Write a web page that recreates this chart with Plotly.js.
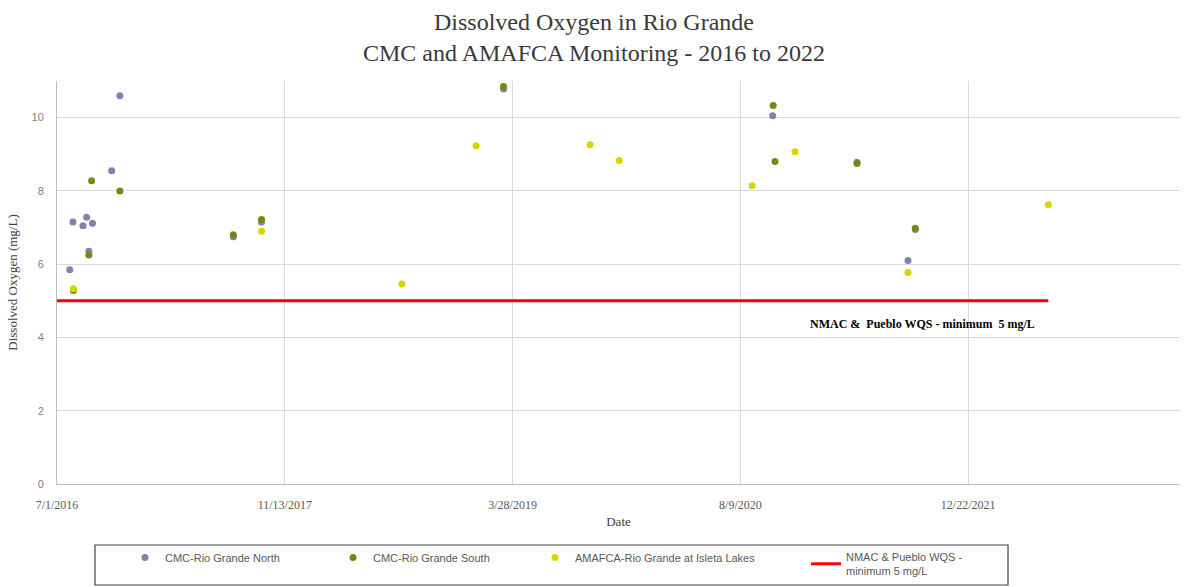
<!DOCTYPE html>
<html>
<head>
<meta charset="utf-8">
<script src="https://cdn.plot.ly/plotly-3.0.1.min.js"></script>
<style>html,body{margin:0;padding:0;background:#fff;}#chart{width:1188px;height:587px;}</style>
</head>
<body>
<div id="chart"></div>
<script>
// ---- data ----
const northDates = ['2016-07-29','2016-08-05','2016-08-27','2016-09-04','2016-09-09','2016-09-17','2016-10-29','2016-11-16','2017-07-23','2017-09-23','2019-03-08','2020-10-19','2021-04-22','2021-08-12','2021-08-28'];
const northDO    = [5.85,7.15,7.05,7.28,6.35,7.12,8.55,10.6,6.75,7.15,10.78,10.05,8.78,6.1,6.95];

const southDates = ['2016-08-06','2016-09-09','2016-09-15','2016-11-16','2017-07-23','2017-09-23','2019-03-08','2020-10-20','2020-10-24','2021-04-22','2021-08-28'];
const southDO    = [5.28,6.25,8.28,8.0,6.8,7.22,10.85,10.33,8.8,8.75,6.98];

const amafcaDates = ['2016-08-06','2017-09-23','2018-07-28','2019-01-07','2019-09-14','2019-11-17','2020-09-04','2020-12-07','2021-08-12','2022-06-16'];
const amafcaDO    = [5.33,6.9,5.46,9.23,9.26,8.83,8.14,9.07,5.77,7.62];

const wqsDates = ['2016-07-01','2022-06-16'];
const wqsDO    = [5,5];

const xTickVals = ['2016-07-01','2017-11-13','2019-03-28','2020-08-09','2021-12-22'];
const xTickText = ['7/1/2016','11/13/2017','3/28/2019','8/9/2020','12/22/2021'];
const yTickVals = [0,2,4,6,8,10];

const names = ['CMC-Rio Grande North','CMC-Rio Grande South','AMAFCA-Rio Grande at Isleta Lakes','NMAC & Pueblo WQS -<br>minimum 5 mg/L'];

const serif = 'Liberation Serif, Times New Roman, serif';
const sans = 'Liberation Sans, Arial, sans-serif';

const traces = [
  {x: northDates, y: northDO, name: names[0], type: 'scatter', mode: 'markers',
   marker: {color: '#8282ad', size: 7, symbol: 'circle'}, legendwidth: 163},
  {x: southDates, y: southDO, name: names[1], type: 'scatter', mode: 'markers',
   marker: {color: '#6f8c12', size: 7, symbol: 'circle'}, legendwidth: 157},
  {x: amafcaDates, y: amafcaDO, name: names[2], type: 'scatter', mode: 'markers',
   marker: {color: '#d9d400', size: 7, symbol: 'circle'}, legendwidth: 226},
  {x: wqsDates, y: wqsDO, name: names[3], type: 'scatter', mode: 'lines',
   line: {color: '#ff0000', width: 3}, legendwidth: 120}
];

const layout = {
  width: 1188, height: 587,
  margin: {l: 57, r: 8, t: 81, b: 103},
  paper_bgcolor: '#ffffff', plot_bgcolor: '#ffffff',
  title: {
    text: 'Dissolved Oxygen in Rio Grande<br>CMC and AMAFCA Monitoring - 2016 to 2022',
    font: {family: serif, size: 24, color: '#3a3a3a'},
    x: 0.5, xanchor: 'center', xref: 'container',
    y: 1 - 30/587, yanchor: 'top', yref: 'container'
  },
  xaxis: {
    type: 'date', range: ['2016-07-01','2023-04-01'],
    tickmode: 'array', tickvals: xTickVals, ticktext: xTickText,
    tickfont: {family: serif, size: 12, color: '#595959'},
    showgrid: true, gridcolor: '#d9d9d9', gridwidth: 1,
    showline: true, linecolor: '#bfbfbf', linewidth: 1,
    zeroline: false, ticks: '', ticklabelstandoff: 10,
    title: {text: 'Date', font: {family: serif, size: 13, color: '#404040'}, standoff: 5}
  },
  yaxis: {
    range: [0, 11], tickmode: 'array', tickvals: yTickVals,
    tickfont: {family: sans, size: 11, color: '#7f7f7f'},
    showgrid: true, gridcolor: '#d9d9d9', gridwidth: 1,
    showline: true, linecolor: '#bfbfbf', linewidth: 1,
    zeroline: false, ticks: '', ticklabelstandoff: 10,
    title: {text: 'Dissolved Oxygen (mg/L)', font: {family: serif, size: 13, color: '#404040'}, standoff: 10}
  },
  showlegend: true,
  legend: {
    orientation: 'h', xref: 'container', yref: 'container',
    x: 125/1188, xanchor: 'left', y: 1 - 543/587, yanchor: 'top',
    font: {family: sans, size: 11, color: '#595959'},
    bgcolor: 'rgba(0,0,0,0)', borderwidth: 0, entrywidthmode: 'pixels'
  },
  shapes: [{
    type: 'rect', xref: 'paper', yref: 'paper',
    x0: (95-57)/1123, x1: (1008-57)/1123,
    y0: (484-585)/403, y1: (484-545)/403,
    line: {color: '#404040', width: 1.2}, fillcolor: 'rgba(0,0,0,0)', layer: 'above'
  }],
  annotations: [{
    xref: 'paper', yref: 'paper', x: (808-57)/1123, y: (484-324)/403,
    xanchor: 'left', yanchor: 'middle', showarrow: false,
    text: 'NMAC &\u00a0 Pueblo WQS - minimum\u00a0 5 mg/L',
    font: {family: serif, size: 12, color: '#000000', weight: 'bold'}
  }]
};

Plotly.newPlot('chart', traces, layout, {displayModeBar: false, staticPlot: true});
</script>
</body>
</html>
